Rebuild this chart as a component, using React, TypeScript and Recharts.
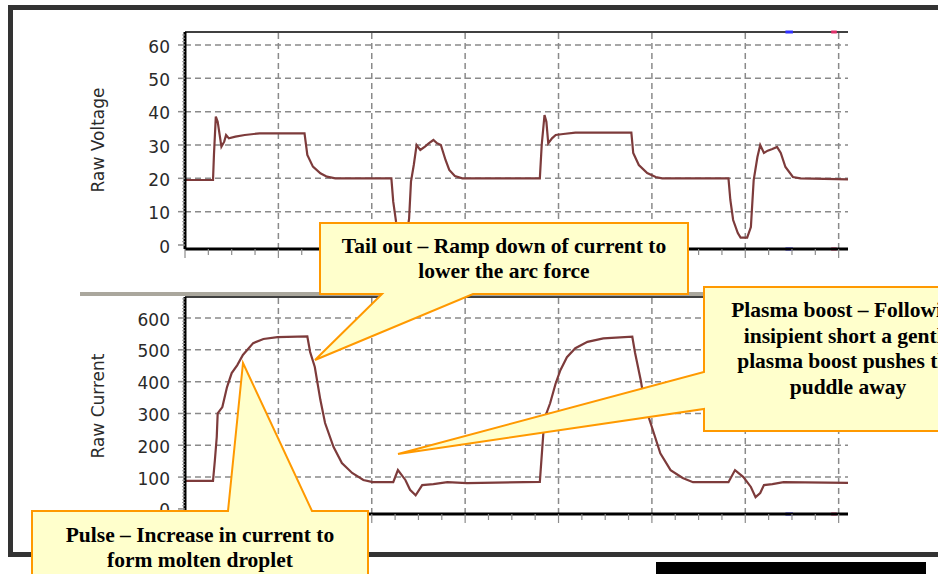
import React from 'react';
import { LineChart, Line, XAxis, YAxis, ReferenceLine } from 'recharts';

// one grid division = 1 time unit
const gridX = [1, 2, 3, 4, 5, 6, 7];

// welding trace: raw arc voltage
const voltageT = [0, 0.30, 0.31, 0.33, 0.35, 0.39, 0.42, 0.44, 0.47, 0.54, 0.64, 0.80, 1.28, 1.31, 1.37, 1.45, 1.52, 1.61,
  2.21, 2.23, 2.26, 2.29, 2.33, 2.37, 2.40, 2.42, 2.45, 2.48, 2.52, 2.57, 2.61, 2.66, 2.70, 2.74, 2.79, 2.83, 2.89, 2.97,
  3.80, 3.82, 3.85, 3.87, 3.89, 3.93, 3.97, 4.05, 4.18, 4.78, 4.80, 4.86, 4.95, 5.04, 5.11,
  5.82, 5.84, 5.87, 5.92, 5.95, 6.02, 6.06, 6.09, 6.13, 6.16, 6.20, 6.24, 6.29, 6.34, 6.38, 6.43, 6.51, 6.59, 7.10];
const voltage = [19.5, 19.5, 27, 38.5, 37, 29.5, 31, 33, 32, 32.5, 33, 33.5, 33.5, 27, 23.5, 21.5, 20.5, 20,
  20, 13, 7, 3, 1.5, 2, 8, 19, 24, 30, 28.5, 29.5, 30.5, 31.5, 30.5, 30, 25.5, 22.5, 20.7, 20,
  20, 30, 39, 37, 30.5, 32, 33, 33.3, 33.7, 33.7, 27.6, 24, 21.6, 20.4, 20,
  20, 13.5, 7.5, 3.6, 2.2, 2.2, 5.4, 19.5, 26.4, 30, 27.6, 28.3, 28.8, 29.4, 27.6, 23.4, 20.4, 20, 19.7];

// welding trace: raw current
const currentT = [0, 0.30, 0.32, 0.34, 0.35, 0.40, 0.45, 0.50, 0.56, 0.62, 0.73, 0.84, 0.99, 1.31, 1.34,
  1.39, 1.45, 1.50, 1.59, 1.68, 1.79, 1.91, 2.01, 2.23, 2.28, 2.36, 2.41, 2.47, 2.54, 2.66, 2.81, 3.02,
  3.80, 3.84, 3.87, 3.91, 3.97, 4.02, 4.09, 4.18, 4.31, 4.48, 4.79, 4.82, 4.88, 4.93, 5.01, 5.09, 5.20, 5.33, 5.44,
  5.82, 5.89, 5.98, 6.06, 6.11, 6.16, 6.20, 6.29, 6.41, 7.10];
const current = [88, 88, 153, 226, 300, 320, 383, 427, 452, 484, 521, 534, 540, 542, 493,
  446, 342, 270, 195, 144, 113, 91, 84, 84, 122, 91, 60, 43, 75, 78, 84, 81,
  85, 248, 300, 332, 395, 436, 477, 505, 525, 536, 541, 490, 405, 320, 248, 175, 122, 97, 84,
  84, 122, 100, 69, 37, 50, 75, 78, 84, 82];

const voltageMajors = [0, 10, 20, 30, 40, 50, 60];
const currentMajors = [0, 100, 200, 300, 400, 500, 600];

// cursor marks along the time axis
const cursorBlue = [6.43, 6.51];
const cursorPink = [6.92, 6.98];

const voltageRows = voltageT.map((t, i) => ({ t, v: voltage[i] }));
const currentRows = currentT.map((t, i) => ({ t, v: current[i] }));

const xTicks: number[] = [];
for (let i = 0; i <= 28; i++) xTicks.push(i * 0.25);

const TRACE = '#7d3b3b';
const GRID = '#8a8a8a';
const SANS = "'DejaVu Sans', Verdana, sans-serif";
const SERIF = "'Liberation Serif', 'Times New Roman', serif";

const XTick = (props: any) => {
  const { x, y, payload } = props;
  const major = Number.isInteger(payload.value);
  return <line x1={x} x2={x} y1={y} y2={y + (major ? 9 : 6)} stroke="#8c8c8c" strokeWidth={1.2} />;
};

const makeYTick = (step: number) => (props: any) => {
  const { x, y, payload } = props;
  const v = payload.value;
  const major = v % step === 0;
  return (
    <g>
      <line x1={x - (major ? 7 : 3)} x2={x} y1={y} y2={y} stroke={major ? '#8c8c8c' : '#9c9c9c'} strokeWidth={major ? 1.5 : 1} />
      {major && (
        <text x={x - 15} y={y + 7.5} textAnchor="end" fontFamily={SANS} fontSize={17} fill="#2a2a2a">
          {v}
        </text>
      )}
    </g>
  );
};

const voltageTick = makeYTick(10);
const currentTick = makeYTick(100);

interface ScopeProps {
  rows: { t: number; v: number }[];
  domain: [number, number];
  majors: number[];
  minorStep: number;
  tick: (p: any) => React.ReactElement;
  top: number;
}

const Scope: React.FC<ScopeProps> = ({ rows, domain, majors, minorStep, tick, top }) => {
  const yTicks: number[] = [];
  for (let v = 0; v <= domain[1]; v += minorStep) yTicks.push(v);
  return (
    <LineChart width={938} height={top + 217 + 20} data={rows} margin={{ top, right: 90, bottom: 0, left: 0 }}>
      <XAxis
        type="number"
        dataKey="t"
        domain={[0, 7.1]}
        ticks={xTicks}
        interval={0}
        tickSize={0}
        tickMargin={0}
        tick={XTick}
        height={20}
        axisLine={{ stroke: '#000', strokeWidth: 3 }}
        allowDataOverflow
      />
      <YAxis
        type="number"
        domain={domain}
        ticks={yTicks}
        interval={0}
        tickSize={0}
        tickMargin={0}
        tick={tick}
        width={185}
        axisLine={{ stroke: '#000', strokeWidth: 3 }}
        allowDataOverflow
      />
      {gridX.map((x) => (
        <ReferenceLine key={`gx${x}`} x={x} stroke={GRID} strokeWidth={1.5} strokeDasharray="6 4" />
      ))}
      {majors.slice(1).map((y) => (
        <ReferenceLine key={`gy${y}`} y={y} stroke={GRID} strokeWidth={1.5} strokeDasharray="6 4" />
      ))}
      <ReferenceLine y={domain[1]} stroke="#000" strokeWidth={1.5} ifOverflow="visible" />
      <Line type="linear" dataKey="v" stroke={TRACE} strokeWidth={2.2} dot={false} isAnimationActive={false} />
      {[cursorBlue, cursorPink].map((c, i) =>
        [domain[0], domain[1]].map((y) => (
          <ReferenceLine
            key={`c${i}-${y}`}
            segment={[{ x: c[0], y }, { x: c[1], y }]}
            stroke={i === 0 ? '#3030ff' : '#e0306a'}
            strokeWidth={3}
            ifOverflow="visible"
          />
        ))
      )}
    </LineChart>
  );
};

const calloutStyle = { fill: '#FFFFCC', stroke: '#FF9900', strokeWidth: 2 };
const calloutText = { fontFamily: SERIF, fontWeight: 700, fontSize: 21.5, fill: '#000', textAnchor: 'middle' as const };

export default function App() {
  return (
    <div style={{ position: 'fixed', left: 0, top: 0, width: 938, height: 574, overflow: 'hidden', background: '#fff' }}>
      {/* window frame */}
      <div style={{ position: 'absolute', left: 8, top: 5, width: 1000, height: 552, border: '5px solid #333', boxSizing: 'border-box' }} />
      {/* splitter between the two panes */}
      <div style={{ position: 'absolute', left: 80, top: 292, width: 768, height: 4, background: '#aaa79d' }} />
      <div style={{ position: 'absolute', left: 0, top: 0 }}>
        <Scope rows={voltageRows} domain={[-1.2, 63.9]} majors={voltageMajors} minorStep={1} tick={voltageTick} top={32} />
      </div>
      <div style={{ position: 'absolute', left: 0, top: 280 }}>
        <Scope rows={currentRows} domain={[-16, 666]} majors={currentMajors} minorStep={10} tick={currentTick} top={17} />
      </div>
      <div style={{ position: 'absolute', left: 656, top: 562, width: 270, height: 20, background: '#000' }} />
      <svg width={938} height={574} style={{ position: 'absolute', left: 0, top: 0 }}>
        <text x={98} y={140} transform="rotate(-90 98 140)" textAnchor="middle" dominantBaseline="central" fontFamily={SANS} fontSize={17} fill="#2a2a2a">
          Raw Voltage
        </text>
        <text x={97.5} y={406} transform="rotate(-90 97.5 406)" textAnchor="middle" dominantBaseline="central" fontFamily={SANS} fontSize={17} fill="#2a2a2a">
          Raw Current
        </text>

        {/* tail out */}
        <path d="M320,223 H688 V294 H473 L315,360 L382,294 H320 Z" {...calloutStyle} />
        <text x={504} y={253} {...calloutText}>Tail out – Ramp down of current to</text>
        <text x={504} y={278} {...calloutText}>lower the arc force</text>

        {/* plasma boost (box runs past the right edge of the window) */}
        <path d="M704,287 H992 V431 H704 V409 L398,454 L704,372 Z" {...calloutStyle} />
        <text x={848} y={317} {...calloutText}>Plasma boost – Following</text>
        <text x={848} y={342.5} {...calloutText}>insipient short a gentle</text>
        <text x={848} y={368} {...calloutText}>plasma boost pushes the</text>
        <text x={848} y={393.5} {...calloutText}>puddle away</text>

        {/* pulse */}
        <path d="M32,511 H228 L243,363 L312,511 H368 V600 H32 Z" {...calloutStyle} />
        <text x={200} y={542} {...calloutText}>Pulse – Increase in current to</text>
        <text x={200} y={567} {...calloutText}>form molten droplet</text>
      </svg>
    </div>
  );
}
